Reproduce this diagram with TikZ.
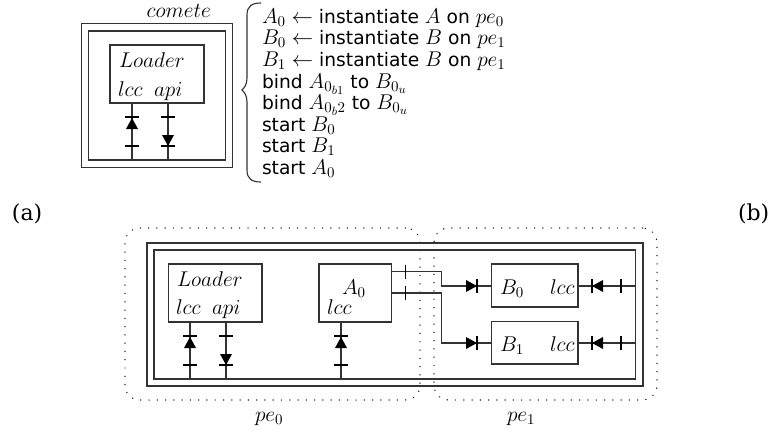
\RequirePackage{fix-cm}
\documentclass[tikz,border=0pt]{standalone}
\usepackage{fontspec}
\newfontfamily\djv[Scale=0.875]{DejaVu Sans}
\newfontfamily\djs[Scale=1.03]{DejaVu Serif}
\usetikzlibrary{calc}
\DeclareMathSizes{16}{16}{11.2}{9}
\definecolor{ln}{gray}{0.2}
\tikzset{
  x=0.75pt,y=-0.75pt,
  every node/.style={inner sep=0pt,outer sep=0pt,font=\fontsize{16}{19}\selectfont},
  comp/.style={draw=ln,line width=0.85pt,rectangle,anchor=north west},
  wire/.style={draw=ln,line width=0.85pt},
  tick/.style={draw=black,line width=1pt},
  tipf/.style={fill=black,draw=none},
  region/.style={draw=black,line width=1.1pt,line cap=round,dash pattern=on 0.01pt off 6.2pt,rounded corners=11pt,rectangle,anchor=north west},
  txt/.style={anchor=base west}
}
% \bx{name}{style}{x1}{y1}{x2}{y2}
\newcommand{\bx}[6]{\node[#2,minimum width={(#5-#3)*0.75pt},minimum height={(#6-#4)*0.75pt}] (#1) at (#3,#4) {};}
\newcommand{\tickH}[2]{\draw[tick] (#1-7,#2) -- (#1+7,#2);}
\newcommand{\tickV}[2]{\draw[tick] (#1,#2-7) -- (#1,#2+7);}
\newcommand{\triU}[2]{\fill[tipf] (#1,#2) -- (#1-6,#2+11) -- (#1+6,#2+11) -- cycle;}
\newcommand{\triD}[2]{\fill[tipf] (#1,#2) -- (#1-6,#2-11) -- (#1+6,#2-11) -- cycle;}
\newcommand{\triR}[2]{\fill[tipf] (#1,#2) -- (#1-11,#2-6) -- (#1-11,#2+6) -- cycle;}
\newcommand{\triL}[2]{\fill[tipf] (#1,#2) -- (#1+11,#2-6) -- (#1+11,#2+6) -- cycle;}
\begin{document}
\begin{tikzpicture}
\useasboundingbox (0,0) rectangle (771,432);
% --- upper component ---
\bx{topout}{comp}{81.7}{23.7}{232.7}{167.3}
\bx{topin}{comp}{88.7}{31}{225.5}{160}
\bx{toploader}{comp}{110}{45}{204}{103}
\node[txt] (cometelab) at (146.7,17) {$comete$};
\node[txt] (tl1) at (119,67.7) {$Loader$};
\node[txt] (tl2) at (118,96.7) {$lcc$};
\node[txt] (tl3) at (154,96.7) {$api$};
\coordinate (ta) at (132,103); \coordinate (tab) at (132,160);
\coordinate (tc) at (168,103); \coordinate (tcb) at (168,160);
\draw[wire] (ta) -- (tab);
\draw[wire] (tc) -- (tcb);
\tickH{132}{117}\tickH{132}{146}\triU{132}{118}
\tickH{168}{117}\tickH{168}{146}\triD{168}{146}
% --- brace ---
\draw[ln,line width=0.85pt] (261,3) .. controls (252,3) and (247,6) .. (247,15) -- (247,78)
  .. controls (247,85) and (244,88) .. (242,90) .. controls (244,92) and (247,95) .. (247,102)
  -- (247,170) .. controls (247,179) and (252,182) .. (261,182);
% --- program text ---
\node[txt] (p1) at (262,23) {$A_0\leftarrow{}${\djv instantiate }$A${\djv\ on }$pe_0$};
\node[txt] (p2) at (262,44.5) {$B_0\leftarrow{}${\djv instantiate }$B${\djv\ on }$pe_1$};
\node[txt] (p3) at (262,66) {$B_1\leftarrow{}${\djv instantiate }$B${\djv\ on }$pe_1$};
\node[txt] (p4) at (262,88) {{\djv bind }$A_{0_{b1}}${\djv\ to }$B_{0_u}$};
\node[txt] (p5) at (262,109) {{\djv bind }$A_{0_b2}${\djv\ to }$B_{0_u}$};
\node[txt] (p6) at (262,131) {{\djv start }$B_0$};
\node[txt] (p7) at (262,152) {{\djv start }$B_1$};
\node[txt] (p8) at (262,174) {{\djv start }$A_0$};
% --- captions ---
\node[txt] (capa) at (12,220) {\djs (a)};
\node[txt] (capb) at (738,220) {\djs (b)};
% --- processing elements ---
\bx{pe0}{region}{125}{228}{420}{400}
\bx{pe1}{region}{434}{228}{657}{400}
\node[txt] (pe0lab) at (255,421.7) {$pe_0$};
\node[txt] (pe1lab) at (507,421.7) {$pe_1$};
% --- lower frame ---
\bx{botout}{comp}{147}{243}{643}{386}
\bx{botin}{comp}{154}{250}{635.5}{379}
\bx{loader}{comp}{168.5}{264}{262}{322}
\bx{azero}{comp}{319}{264}{391.7}{322}
\bx{bzero}{comp}{491.7}{264}{578}{307}
\bx{bone}{comp}{491.7}{321.7}{578}{364}
\node[txt] (l1) at (177,286) {$Loader$};
\node[txt] (l2) at (176,314) {$lcc$};
\node[txt] (l3) at (212,314) {$api$};
\node[txt] (a1) at (342,294) {$A_0$};
\node[txt] (a2) at (327,314) {$lcc$};
\node[txt] (b1) at (500,294) {$B_0$};
\node[txt] (b2) at (550,294) {$lcc$};
\node[txt] (c1) at (500,351.7) {$B_1$};
\node[txt] (c2) at (550,351.7) {$lcc$};
% stubs to the bus
\coordinate (la) at (190,322); \coordinate (lab) at (190,379);
\coordinate (lc) at (226,322); \coordinate (lcb) at (226,379);
\coordinate (aa) at (341,322); \coordinate (aab) at (341,379);
\draw[wire] (la) -- (lab);
\draw[wire] (lc) -- (lcb);
\draw[wire] (aa) -- (aab);
\tickH{190}{336}\tickH{190}{365}\triU{190}{337}
\tickH{226}{336}\tickH{226}{365}\triD{226}{365}
\tickH{341}{336}\tickH{341}{365}\triU{341}{337}
% bindings
\coordinate (a0o1) at (391.7,271.7); \coordinate (a0o2) at (391.7,293);
\coordinate (b0i) at (491.7,286); \coordinate (b1i) at (491.7,343);
\coordinate (b0o) at (578,286); \coordinate (b1o) at (578,343);
\coordinate (b0r) at (635.5,286); \coordinate (b1r) at (635.5,343);
\draw[wire] (a0o1) -- (441.5,271.7) -- (441.5,286) -- (b0i);
\draw[wire] (a0o2) -- (441.5,293) -- (441.5,343) -- (b1i);
\draw[wire] (b0o) -- (b0r);
\draw[wire] (b1o) -- (b1r);
\tickV{405.7}{271.7}\tickV{405.7}{293}
\triR{477}{286}\tickV{477}{286}
\triR{477}{343}\tickV{477}{343}
\triL{592}{286}\tickV{592}{286}\tickV{621}{286}
\triL{592}{343}\tickV{592}{343}\tickV{621}{343}
\end{tikzpicture}
\end{document}
